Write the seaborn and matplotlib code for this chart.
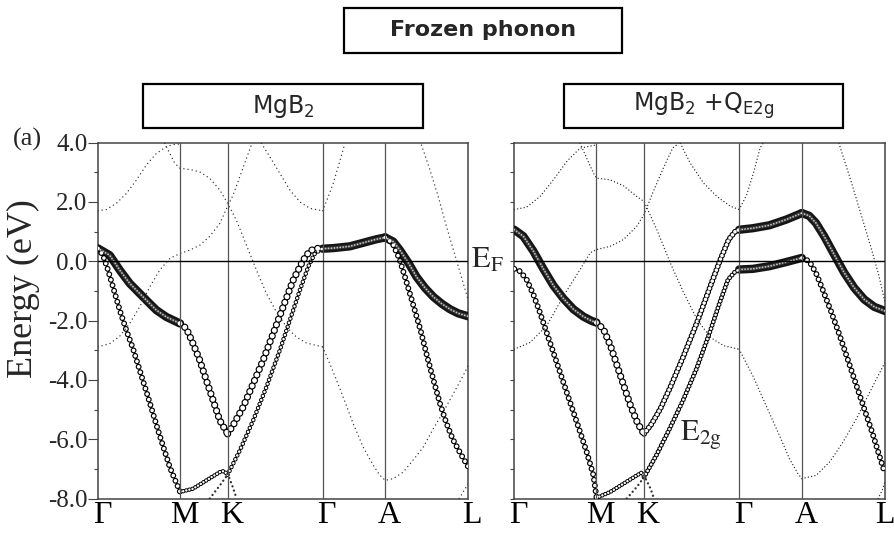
import matplotlib
matplotlib.use("Agg")
import matplotlib.pyplot as plt
import matplotlib.transforms as mtransforms
import seaborn as sns
import pandas as pd
from matplotlib.patches import Rectangle

# ---------------- data ----------------
NODE_K = [0, 82, 129.5, 224.5, 287, 370]
NODE_LABELS = ["Γ", "M", "K", "Γ", "A", "L"]
Y_TICKS = [4, 2, 0, -2, -4, -6, -8]
Y_TICK_LABELS = ["4.0", "2.0", "0.0", "-2.0", "-4.0", "-6.0", "-8.0"]
Y_MINOR = [3, 1, -1, -3, -5, -7]

# Left panel: MgB2  (k along path, E in eV)
L_S1_K = [0, 11.7, 21.7, 31.7, 41.7, 51.7, 58.3, 68.3, 82]
L_S1_E = [0.43, 0.20, -0.30, -0.75, -1.09, -1.43, -1.65, -1.88, -2.10]
L_S2_K = [0, 5, 10, 15, 21.7, 28.3, 35, 41.7, 50, 60, 71.7, 82]
L_S2_E = [0.43, 0.20, -0.30, -0.87, -1.65, -2.33, -2.95, -3.68, -4.58, -5.70, -6.94, -7.78]
L_S3_K = [82, 88.3, 95, 101.7, 108.3, 115, 121.7, 129.5]
L_S3_E = [-2.10, -2.27, -2.78, -3.34, -4.02, -4.69, -5.37, -5.82]
L_S4_K = [129.5, 135, 145, 155, 165, 175, 185, 195, 205, 211.7, 218.3, 224.5]
L_S4_E = [-5.82, -5.53, -4.92, -4.13, -3.34, -2.44, -1.54, -0.64, 0.03, 0.35, 0.43, 0.43]
L_S5_K = [129.5, 141.7, 155, 168.3, 181.7, 191.7, 201.7, 210, 216.7, 224.5]
L_S5_E = [-7.20, -6.38, -5.37, -4.24, -3.00, -1.99, -0.98, -0.19, 0.26, 0.43]
L_S5B_K = [111.7, 121.7, 129.5]
L_S5B_E = [-8.0, -7.56, -7.20]
L_S6_K = [82, 95, 108.3, 121.7, 125, 129.5]
L_S6_E = [-7.78, -7.67, -7.39, -7.11, -7.08, -7.17]
L_S6B_K = [129.5, 134, 138.5]
L_S6B_E = [-7.17, -7.55, -8.0]
L_S7_K = [224.5, 235, 251.7, 268.3, 278.3, 287]
L_S7_E = [0.42, 0.44, 0.50, 0.65, 0.74, 0.80]
L_S8_K = [287, 295, 301.7, 310, 318.3, 326.7, 335, 343.3, 351.7, 360, 370]
L_S8_E = [0.80, 0.66, 0.37, -0.05, -0.53, -0.90, -1.20, -1.43, -1.62, -1.76, -1.86]
L_S9_K = [287, 294.3, 301, 307.7, 315, 322.3, 329, 335.7, 341.7, 347.7, 354.3, 362.3, 370]
L_S9_E = [0.80, 0.60, 0.09, -0.64, -1.48, -2.33, -3.23, -4.07, -4.80, -5.42, -5.99, -6.49, -6.94]

L_P1_K = [0, 8.3, 18.3, 28.3, 38.3, 48.3, 58.3, 68.3, 75, 82]
L_P1_E = [1.70, 1.74, 1.95, 2.28, 2.73, 3.24, 3.63, 3.86, 3.93, 3.95]
L_P2_K = [66.7, 71.7, 76.7, 82, 91.7, 101.7, 111.7, 121.7, 129.5, 138.3, 148.3, 158.3,
          168.3, 178.3, 188.3, 198.3, 208.3, 224.5]
L_P2_E = [3.97, 3.64, 3.30, 3.13, 3.09, 3.01, 2.79, 2.40, 1.95, 1.38, 0.54, -0.30,
          -1.09, -1.71, -2.22, -2.56, -2.76, -2.89]
L_P3_K = [0, 11.7, 21.7, 31.7, 41.7, 51.7, 61.7, 71.7, 82, 91.7, 101.7, 111.7, 121.7,
          129.5, 135, 141.7, 148.3, 154]
L_P3_E = [-2.89, -2.78, -2.53, -2.10, -1.54, -0.87, -0.30, 0.09, 0.26, 0.37, 0.54, 0.84,
          1.27, 1.85, 2.23, 2.85, 3.46, 3.99]
L_P4_K = [163.3, 171.7, 181.7, 191.7, 201.7, 211.7, 224.5]
L_P4_E = [3.97, 3.52, 2.96, 2.40, 2.00, 1.78, 1.70]
L_P5_K = [224.5, 230, 235, 240, 246.7]
L_P5_E = [1.70, 2.17, 2.62, 3.18, 3.97]
L_P6_K = [224.5, 235, 245, 255, 265, 275, 281.7, 287, 295, 305, 315, 325, 335, 345, 355, 365, 370]
L_P6_E = [-2.89, -3.73, -4.58, -5.48, -6.27, -6.88, -7.22, -7.39, -7.33, -7.11, -6.70,
          -6.27, -5.65, -5.08, -4.47, -3.85, -3.51]
L_P7_K = [323.3, 331.7, 340, 348.3, 356.7, 365, 370]
L_P7_E = [3.91, 3.07, 2.17, 1.16, 0.20, -0.75, -1.32]
L_P8_K = [361, 365.7, 370]
L_P8_E = [-8.0, -7.73, -7.5]

# Right panel: MgB2 + Q_E2g
R_S1_K = [0, 9, 19, 29, 39, 49, 59, 69, 77, 82]
R_S1_E = [1.06, 0.84, 0.34, -0.26, -0.82, -1.26, -1.62, -1.87, -2.01, -2.07]
R_S2_K = [0, 5.7, 12.3, 19, 25.7, 32.3, 39, 45.7, 52.3, 59, 65.7, 72.3, 79, 82]
R_S2_E = [-0.26, -0.34, -0.62, -1.12, -1.74, -2.41, -3.08, -3.75, -4.42, -5.09, -5.76,
          -6.44, -7.22, -7.95]
R_S3_K = [82, 89, 96, 102.7, 109.3, 116, 122.7, 127.3, 129.5]
R_S3_E = [-2.07, -2.29, -2.85, -3.53, -4.20, -4.87, -5.43, -5.71, -5.82]
R_S4_K = [129.5, 137, 145.7, 155.7, 169, 182.3, 195.7, 205.7, 214, 220.7, 224.5]
R_S4_E = [-5.82, -5.49, -4.98, -4.25, -3.19, -2.07, -0.84, 0.06, 0.73, 1.01, 1.06]
R_S5_K = [224.5, 238, 254.7, 271.3, 287]
R_S5_E = [1.06, 1.11, 1.21, 1.40, 1.62]
R_S6_K = [287, 294.3, 301, 309.3, 319.3, 329.3, 339.3, 349.3, 359.3, 370]
R_S6_E = [1.62, 1.53, 1.29, 0.84, 0.22, -0.39, -0.90, -1.29, -1.54, -1.68]
R_S7_K = [129.5, 141.7, 155, 168.3, 181.7, 195, 205, 213.3, 220, 224.5]
R_S7_E = [-7.28, -6.55, -5.65, -4.70, -3.64, -2.41, -1.40, -0.62, -0.37, -0.28]
R_S8_K = [224.5, 238, 254.7, 271.3, 287]
R_S8_E = [-0.28, -0.26, -0.17, -0.03, 0.11]
R_S9_K = [287, 294.3, 301, 307.7, 316, 324.3, 332.7, 341, 349.3, 357.7, 364.3, 370]
R_S9_E = [0.11, 0.0, -0.39, -0.95, -1.68, -2.46, -3.30, -4.14, -4.98, -5.82, -6.55, -7.16]
R_S10_K = [82, 95.7, 109, 122.3, 127, 129.5]
R_S10_E = [-7.98, -7.78, -7.50, -7.22, -7.13, -7.22]
R_S10B_K = [129.5, 136, 139.7]
R_S10B_E = [-7.22, -7.67, -8.03]
R_S11_K = [112.3, 122.3, 129.5]
R_S11_E = [-8.0, -7.61, -7.28]

R_P1_K = [0, 12.3, 25.7, 39, 52.3, 65.7, 82]
R_P1_E = [1.74, 1.82, 2.18, 2.74, 3.36, 3.81, 3.92]
R_P2_K = [65.7, 72.3, 79, 82, 95.7, 109, 122.3, 129.5, 142.3, 155.7, 169, 182.3, 195.7,
          209, 224.5]
R_P2_E = [3.97, 3.47, 2.97, 2.80, 2.74, 2.54, 2.18, 2.01, 1.06, -0.06, -1.06, -1.96,
          -2.57, -2.85, -2.97]
R_P3_K = [0, 15.7, 32.3, 49, 65.7, 75.7, 82, 95.7, 109, 122.3, 129.5, 138, 148, 158, 164]
R_P3_E = [-2.97, -2.74, -2.18, -1.18, -0.28, 0.28, 0.39, 0.50, 0.73, 1.18, 1.57, 2.29,
          3.08, 3.81, 3.97]
R_P4_K = [165.7, 175.7, 189, 202.3, 215.7, 224.5]
R_P4_E = [3.97, 3.30, 2.63, 2.18, 1.85, 1.74]
R_P5_K = [224.5, 232, 238.7, 245.3, 248]
R_P5_E = [1.74, 2.24, 2.97, 3.81, 3.97]
R_P6_K = [224.5, 238, 251.3, 264.7, 274.7, 283, 287, 301.3, 314.7, 328, 341.3, 354.7, 370]
R_P6_E = [-2.97, -3.86, -4.87, -5.88, -6.66, -7.16, -7.33, -7.22, -6.77, -6.10, -5.32,
          -4.42, -3.41]
R_P7_K = [324, 335.7, 345.7, 355.7, 364, 370]
R_P7_E = [3.97, 2.74, 1.62, 0.50, -0.50, -1.40]
R_P8_K = [363, 367.3, 370]
R_P8_E = [-8.0, -7.72, -7.44]

PANEL_TITLES = ["MgB$_2$", "MgB$_2$ +Q$_{\\mathrm{E2g}}$"]
MAIN_TITLE = "Frozen phonon"

# ---------------- style ----------------
sns.set_theme(style="white")
plt.rcParams["font.family"] = ["Liberation Serif", "DejaVu Sans"]
plt.rcParams["lines.scale_dashes"] = False

W, H = 895, 537
fig = plt.figure(figsize=(W / 100, H / 100), dpi=100)


def fx(x):
    return x / W


def fy(y):
    return 1 - y / H


def _line(ax, k, e, **kw):
    df = pd.DataFrame({"k": k, "E": e})
    sns.lineplot(data=df, x="k", y="E", ax=ax, sort=False, estimator=None, **kw)


def dots(ax, k, e, lw=1.05, gap=3.0, color="#303030"):
    _line(ax, k, e, color=color, linewidth=lw, linestyle=(0, (0.01, gap)),
          dash_capstyle="round", zorder=5.5)


def rings(ax, k, e, d_out, d_in, gap):
    st = (0, (0.01, gap))
    _line(ax, k, e, color="black", linewidth=d_out, linestyle=st,
          dash_capstyle="round", zorder=4)
    _line(ax, k, e, color="white", linewidth=d_in, linestyle=st,
          dash_capstyle="round", zorder=5)


def dense(ax, k, e, w=6.0):
    _line(ax, k, e, color="#151515", linewidth=w, solid_capstyle="round",
          solid_joinstyle="round", zorder=4)
    _line(ax, k, e, color="#3a3a3a", linewidth=w * 0.4, solid_capstyle="round",
          solid_joinstyle="round", zorder=4.5)
    _line(ax, k, e, color="white", linewidth=1.3, linestyle=(0, (0.01, 2.1)),
          dash_capstyle="round", alpha=0.7, zorder=5)


BIG = (5.2, 3.5, 4.3)
MED = (4.3, 2.6, 4.1)
SMALL = (3.3, 1.9, 3.1)

axL = fig.add_axes([fx(98), fy(498.5), fx(468.3) - fx(98), fy(142.5) - fy(498.5)])
axR = fig.add_axes([fx(514.3), fy(498.5), fx(885) - fx(514.3), fy(142.5) - fy(498.5)])

# left bands
dense(axL, L_S1_K, L_S1_E)
rings(axL, L_S2_K, L_S2_E, *MED)
rings(axL, L_S3_K, L_S3_E, *BIG)
rings(axL, L_S4_K, L_S4_E, *BIG)
rings(axL, L_S5_K, L_S5_E, *SMALL)
dots(axL, L_S5B_K, L_S5B_E, lw=1.7, gap=3.2)
rings(axL, L_S6_K, L_S6_E, 3.2, 1.8, 2.3)
dots(axL, L_S6B_K, L_S6B_E, lw=1.7, gap=3.2)
dense(axL, L_S7_K, L_S7_E)
dense(axL, L_S8_K, L_S8_E)
rings(axL, L_S9_K, L_S9_E, *MED)
for k, e in [(L_P1_K, L_P1_E), (L_P2_K, L_P2_E), (L_P3_K, L_P3_E), (L_P4_K, L_P4_E),
             (L_P5_K, L_P5_E), (L_P6_K, L_P6_E), (L_P7_K, L_P7_E), (L_P8_K, L_P8_E)]:
    dots(axL, k, e)

# right bands
dense(axR, R_S1_K, R_S1_E)
rings(axR, R_S2_K, R_S2_E, *MED)
rings(axR, R_S3_K, R_S3_E, *BIG)
rings(axR, R_S4_K, R_S4_E, 4.2, 2.6, 2.8)
dense(axR, R_S5_K, R_S5_E)
dense(axR, R_S6_K, R_S6_E)
rings(axR, R_S7_K, R_S7_E, 3.5, 2.0, 2.6)
dense(axR, R_S8_K, R_S8_E)
rings(axR, R_S9_K, R_S9_E, *MED)
rings(axR, R_S10_K, R_S10_E, 3.2, 1.8, 2.3)
dots(axR, R_S10B_K, R_S10B_E, lw=1.7, gap=3.2)
dots(axR, R_S11_K, R_S11_E, lw=1.7, gap=3.2)
for k, e in [(R_P1_K, R_P1_E), (R_P2_K, R_P2_E), (R_P3_K, R_P3_E), (R_P4_K, R_P4_E),
             (R_P5_K, R_P5_E), (R_P6_K, R_P6_E), (R_P7_K, R_P7_E), (R_P8_K, R_P8_E)]:
    dots(axR, k, e, gap=2.4)

shift = mtransforms.ScaledTranslation(4 / 100, 0, fig.dpi_scale_trans)
for i, ax in enumerate([axL, axR]):
    ax.set_xlim(NODE_K[0], NODE_K[-1])
    ax.set_ylim(-8, 4)
    for kk in NODE_K[1:-1]:
        ax.axvline(kk, color="#555555", lw=0.9, zorder=6)
    ax.axhline(0, color="black", lw=1.0, zorder=6)
    for s in ax.spines.values():
        s.set_color("#444444")
        s.set_linewidth(1.1)
    ax.set_xlabel("")
    ax.set_ylabel("")
    ax.set_xticks(NODE_K)
    ax.set_xticklabels(NODE_LABELS, fontsize=23)
    ax.tick_params(axis="x", length=0, pad=2, colors="black")
    labs = ax.get_xticklabels()
    for j, lab in enumerate(labs):
        if i == 1 and j == len(labs) - 1:
            continue
        lab.set_transform(lab.get_transform() + shift)
    ax.set_yticks(Y_TICKS)
    ax.set_yticks(Y_MINOR, minor=True)
    if i == 0:
        ax.set_yticklabels(Y_TICK_LABELS, fontsize=18)
        ax.tick_params(axis="y", which="major", length=7, width=0.8, pad=0.5,
                       direction="out", left=True, color="#444444")
        ax.tick_params(axis="y", which="minor", length=2.6, width=0.8,
                       direction="out", left=True, color="#444444")
    else:
        ax.set_yticklabels([])
        ax.tick_params(axis="y", which="both", length=3, width=0.8,
                       direction="out", left=True, color="#444444")
    ax.set_facecolor("white")

# texts
fig.text(fx(27), fy(139), "(a)", fontsize=19, ha="center", va="center")
fig.text(fx(23), fy(289), "Energy (eV)", fontsize=26, rotation=90,
         ha="center", va="center")
fig.text(fx(471), fy(268), "$\\mathrm{E_F}$", fontsize=22, math_fontfamily="stix",
         ha="left", va="baseline")
axR.text(165, -6.05, "$\\mathrm{E_{2g}}$", fontsize=22, math_fontfamily="stix",
         ha="left", va="baseline", zorder=7)

# boxes
def box(x0, x1, y0, y1, txt, **kw):
    fig.patches.append(Rectangle((fx(x0), fy(y1)), fx(x1) - fx(x0), fy(y0) - fy(y1),
                                 transform=fig.transFigure, fill=False,
                                 edgecolor="black", linewidth=1.6))
    fig.text(fx((x0 + x1) / 2), fy((y0 + y1) / 2), txt, ha="center", va="center",
             family="DejaVu Sans", math_fontfamily="dejavusans", **kw)

box(344, 622, 8, 53, MAIN_TITLE, fontsize=16, fontweight="bold")
box(143, 423, 84, 128, PANEL_TITLES[0], fontsize=17)
box(564, 843, 84, 128, PANEL_TITLES[1], fontsize=17)

fig.savefig("out.png", dpi=100)
